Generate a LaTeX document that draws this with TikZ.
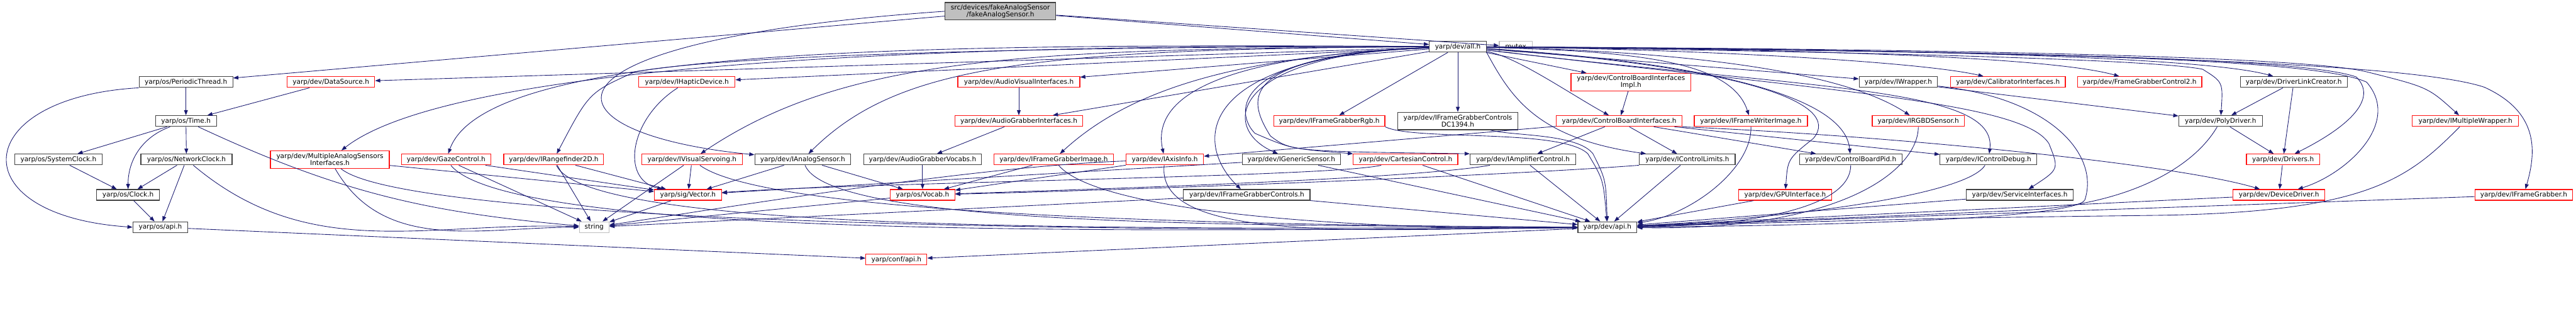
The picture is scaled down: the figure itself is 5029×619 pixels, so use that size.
\documentclass[tikz,border=0pt]{standalone}
\usepackage{fontspec}
\setmainfont{DejaVu Sans}
\usetikzlibrary{arrows.meta}
\definecolor{depblue}{RGB}{25, 25, 112}
\definecolor{hdrred}{RGB}{255, 20, 20}
\definecolor{hdrgrey}{RGB}{64, 64, 64}
\definecolor{extgrey}{RGB}{191, 191, 191}
\definecolor{rootfill}{RGB}{191, 191, 191}

\tikzset{
  hdr/.style={draw=hdrgrey, line width=1.1pt, fill=white, inner sep=0pt,
    minimum height=15.75pt, align=center, font=\fontsize{9.7}{9.3}\selectfont},
  hdrtrunc/.style={hdr, draw=hdrred},
  hdrext/.style={hdr, draw=extgrey},
  hdrroot/.style={hdr, fill=rootfill},
  twoline/.style={minimum height=25.5pt},
  boxw/.style={minimum width=#1*0.75pt},
  dep/.style={draw=depblue, line width=0.8pt, -{Triangle[length=7.5pt,width=5.5pt]}},
}

\begin{document}
\begin{tikzpicture}[x=0.75pt, y=-0.75pt]
    \useasboundingbox (0,0) rectangle (5029,619);

    % row 0 and 1
    \node[hdrroot, twoline, boxw=216] (root) at (1953,22) {src/devices/fakeAnalogSensor\\/fakeAnalogSensor.h};
    \node[hdr, boxw=111] (all) at (2846,91) {yarp/dev/all.h};
    \node[hdrext, boxw=64] (mutex) at (2959,91) {mutex};

    % row 2
    \node[hdr, boxw=183] (periodic) at (363,160) {yarp/os/PeriodicThread.h};
    \node[hdrtrunc, boxw=171] (datasource) at (646,160) {yarp/dev/DataSource.h};
    \node[hdrtrunc, boxw=188] (haptic) at (1341,160) {yarp/dev/IHapticDevice.h};
    \node[hdrtrunc, boxw=238] (audiovisual) at (1989,160) {yarp/dev/AudioVisualInterfaces.h};
    \node[hdrtrunc, twoline, boxw=234] (cbimpl) at (3184,160) {yarp/dev/ControlBoardInterfaces\\Impl.h};
    \node[hdr, boxw=153] (iwrapper) at (3706,160) {yarp/dev/IWrapper.h};
    \node[hdrtrunc, boxw=224] (calibrator) at (3920,160) {yarp/dev/CalibratorInterfaces.h};
    \node[hdrtrunc, boxw=243] (fgctrl2) at (4177,160) {yarp/dev/FrameGrabberControl2.h};
    \node[hdr, boxw=209] (linkcreator) at (4478,160) {yarp/dev/DriverLinkCreator.h};

    % row 3
    \node[hdr, boxw=119] (time) at (363,236) {yarp/os/Time.h};
    \node[hdrtrunc, boxw=250] (audiograbber) at (1989,236) {yarp/dev/AudioGrabberInterfaces.h};
    \node[hdrtrunc, boxw=217] (fgrgb) at (2595,236) {yarp/dev/IFrameGrabberRgb.h};
    \node[hdr, twoline, boxw=235] (dc1394) at (2846,236) {yarp/dev/IFrameGrabberControls\\DC1394.h};
    \node[hdrtrunc, boxw=245] (cbi) at (3161,236) {yarp/dev/ControlBoardInterfaces.h};
    \node[hdrtrunc, boxw=221] (fwriter) at (3418,236) {yarp/dev/IFrameWriterImage.h};
    \node[hdrtrunc, boxw=180] (rgbd) at (3745,236) {yarp/dev/IRGBDSensor.h};
    \node[hdr, boxw=163] (polydriver) at (4335,236) {yarp/dev/PolyDriver.h};
    \node[hdrtrunc, boxw=207] (multwrapper) at (4813,236) {yarp/dev/IMultipleWrapper.h};

    % row 4
    \node[hdr, boxw=171] (sysclock) at (114,311) {yarp/os/SystemClock.h};
    \node[hdr, boxw=178] (netclock) at (364,311) {yarp/os/NetworkClock.h};
    \node[hdrtrunc, twoline, boxw=232] (masi) at (644,311) {yarp/dev/MultipleAnalogSensors\\Interfaces.h};
    \node[hdrtrunc, boxw=175] (gaze) at (871,311) {yarp/dev/GazeControl.h};
    \node[hdrtrunc, boxw=195] (rangefinder) at (1081,311) {yarp/dev/IRangefinder2D.h};
    \node[hdrtrunc, boxw=197] (visualservo) at (1351,311) {yarp/dev/IVisualServoing.h};
    \node[hdr, boxw=187] (ianalog) at (1567,311) {yarp/dev/IAnalogSensor.h};
    \node[hdr, boxw=230] (agvocabs) at (1801,311) {yarp/dev/AudioGrabberVocabs.h};
    \node[hdrtrunc, boxw=234] (fgimage) at (2057,311) {yarp/dev/IFrameGrabberImage.h};
    \node[hdrtrunc, boxw=151] (axisinfo) at (2274,311) {yarp/dev/IAxisInfo.h};
    \node[hdr, boxw=192] (generic) at (2521,311) {yarp/dev/IGenericSensor.h};
    \node[hdrtrunc, boxw=204] (cartesian) at (2744,311) {yarp/dev/CartesianControl.h};
    \node[hdr, boxw=206] (amplifier) at (2973,311) {yarp/dev/IAmplifierControl.h};
    \node[hdr, boxw=187] (limits) at (3294,311) {yarp/dev/IControlLimits.h};
    \node[hdr, boxw=200] (cbpid) at (3613,311) {yarp/dev/ControlBoardPid.h};
    \node[hdr, boxw=189] (debug) at (3882,311) {yarp/dev/IControlDebug.h};
    \node[hdrtrunc, boxw=143] (drivers) at (4457,311) {yarp/dev/Drivers.h};

    % row 5
    \node[hdr, boxw=123] (clock) at (250,380) {yarp/os/Clock.h};
    \node[hdrtrunc, boxw=131] (vector) at (1343,380) {yarp/sig/Vector.h};
    \node[hdrtrunc, boxw=126] (vocab) at (1801,380) {yarp/os/Vocab.h};
    \node[hdr, boxw=247] (fgcontrols) at (2434,380) {yarp/dev/IFrameGrabberControls.h};
    \node[hdrtrunc, boxw=181] (gpu) at (3485,380) {yarp/dev/GPUInterface.h};
    \node[hdr, boxw=208] (service) at (3943,380) {yarp/dev/ServiceInterfaces.h};
    \node[hdrtrunc, boxw=179] (devicedriver) at (4449,380) {yarp/dev/DeviceDriver.h};
    \node[hdrtrunc, boxw=191] (fgrabber) at (4927,380) {yarp/dev/IFrameGrabber.h};

    % row 6 and 7
    \node[hdr, boxw=107] (osapi) at (313,443) {yarp/os/api.h};
    \node[hdrext, boxw=58] (string) at (1160,443) {string};
    \node[hdr, boxw=115] (devapi) at (3138,443) {yarp/dev/api.h};
    \node[hdrtrunc, boxw=119] (confapi) at (1750,506) {yarp/conf/api.h};

    % fakeAnalogSensor.h
    \draw[dep] (root) -- (periodic);
    \draw[dep] (root) -- (all);
    \draw[dep] (root) -- (mutex);
    \draw[dep] (root.west) .. controls (1000,80) and (1050,260) .. (ianalog);

    % all.h, to the left
    \draw[dep] (all) -- (datasource);
    \draw[dep] (all) -- (haptic);
    \draw[dep] (all) -- (audiovisual);
    \draw[dep] (all) -- (audiograbber);
    \draw[dep] (all) -- (fgrgb);
    \draw[dep] (all) -- (dc1394);
    \draw[dep] (all) .. controls (2000,85) and (900,110) .. (masi);
    \draw[dep] (all) .. controls (1800,85) and (950,90) .. (gaze);
    \draw[dep] (all) .. controls (2000,90) and (1400,110) .. (1240,140) .. controls (1150,180) .. (rangefinder);
    \draw[dep] (all) .. controls (2000,95) and (1650,110) .. (visualservo);
    \draw[dep] (all) .. controls (2000,95) and (1750,130) .. (ianalog);
    \draw[dep] (all) .. controls (2400,110) and (2200,180) .. (fgimage);
    \draw[dep] (all) .. controls (2350,110) and (2250,200) .. (axisinfo);
    \draw[dep] (all) .. controls (2330,110) and (2330,280) .. (fgcontrols);
    \draw[dep] (all) .. controls (2400,105) and (2380,250) .. (generic);
    \draw[dep] (all) .. controls (2400,105) and (2410,220) .. (2450,260) .. controls (2520,290) .. (cartesian.north west);
    \draw[dep] (all) .. controls (2400,110) and (2440,200) .. (2480,265) .. controls (2520,295) .. (amplifier.north west);

    % all.h, to the right
    \draw[dep] (all) -- (cbimpl);
    \draw[dep] (all) .. controls (2960,110) and (3060,180) .. (cbi);
    \draw[dep] (all.south east) .. controls (2950,190) and (3000,270) .. (limits);
    \draw[dep] (all) .. controls (3200,100) and (3380,120) .. (fwriter);
    \draw[dep] (all) .. controls (3300,100) and (3600,140) .. (rgbd);
    \draw[dep] (all) -- (iwrapper);
    \draw[dep] (all) .. controls (3300,95) and (3750,120) .. (calibrator);
    \draw[dep] (all) .. controls (3500,95) and (4000,110) .. (fgctrl2);
    \draw[dep] (all) .. controls (3700,95) and (4300,110) .. (linkcreator);
    \draw[dep] (all) .. controls (3600,100) and (4200,115) .. (4300,135) .. controls (4340,160) .. (polydriver);
    \draw[dep] (all) .. controls (3800,95) and (4500,110) .. (4620,140) .. controls (4740,170) .. (multwrapper);
    \draw[dep] (all) .. controls (4000,100) and (4700,120) .. (4850,170) .. controls (4960,220) and (4950,300) .. (fgrabber);
    \draw[dep] (all) .. controls (4000,100) and (4500,115) .. (4600,150) .. controls (4650,200) and (4560,260) .. (drivers);
    \draw[dep] (all) .. controls (4000,100) and (4520,115) .. (4620,160) .. controls (4690,240) and (4580,340) .. (devicedriver);
    \draw[dep] (all) .. controls (3600,180) and (3950,200) .. (4000,280) .. controls (4020,330) .. (service);
    \draw[dep] (all) .. controls (3550,175) and (3900,170) .. (debug);
    \draw[dep] (all) .. controls (3300,120) and (3600,180) .. (cbpid);
    \draw[dep] (all) .. controls (3400,130) and (3600,200) .. (3540,270) .. controls (3490,310) .. (gpu);

    % yarp/os
    \draw[dep] (periodic) -- (time);
    \draw[dep] (periodic.south west) .. controls (-60,190) and (-80,420) .. (osapi.west);
    \draw[dep] (datasource) -- (time);
    \draw[dep] (time) -- (sysclock);
    \draw[dep] (time) to[out=200, in=90] (clock);
    \draw[dep] (time) -- (netclock);
    \draw[dep] (time) to[out=-25, in=175] (string);
    \draw[dep] (sysclock) -- (clock);
    \draw[dep] (netclock) -- (clock);
    \draw[dep] (netclock) -- (osapi);
    \draw[dep] (netclock) to[out=-40, in=178] (string);
    \draw[dep] (clock) -- (osapi);
    \draw[dep] (osapi) -- (confapi);

    % yarp/dev, left part
    \draw[dep] (haptic) .. controls (1230,230) and (1210,350) .. (vector);
    \draw[dep] (audiovisual) -- (audiograbber);
    \draw[dep] (audiograbber) -- (agvocabs);
    \draw[dep] (agvocabs) -- (vocab);
    \draw[dep] (masi) to[out=-60, in=180] (string);
    \draw[dep] (masi) -- (vector);
    \draw[dep] (masi) .. controls (800,440) and (2300,455) .. (devapi);
    \draw[dep] (gaze) -- (string);
    \draw[dep] (gaze) -- (vector);
    \draw[dep] (gaze) .. controls (1000,470) and (2300,450) .. (devapi);
    \draw[dep] (rangefinder) -- (string);
    \draw[dep] (rangefinder) -- (vector);
    \draw[dep] (rangefinder) .. controls (1150,460) and (2300,445) .. (devapi);
    \draw[dep] (visualservo) -- (vector);
    \draw[dep] (visualservo) -- (string);
    \draw[dep] (visualservo) .. controls (1500,420) and (2400,440) .. (devapi);
    \draw[dep] (ianalog) -- (vector);
    \draw[dep] (ianalog) -- (vocab);
    \draw[dep] (ianalog) .. controls (1620,440) and (2400,440) .. (devapi);
    \draw[dep] (fgimage) -- (vocab);
    \draw[dep] (fgimage) .. controls (2150,420) and (2700,450) .. (devapi);
    \draw[dep] (axisinfo) -- (vocab);
    \draw[dep] (axisinfo) .. controls (1900,325) and (1450,400) .. (string);
    \draw[dep] (axisinfo) .. controls (2255,480) and (2700,445) .. (devapi);
    \draw[dep] (generic) -- (vector);
    \draw[dep] (generic) -- (devapi);
    \draw[dep] (cartesian) .. controls (2600,345) and (1700,355) .. (vector);
    \draw[dep] (cartesian) -- (devapi);
    \draw[dep] (amplifier) .. controls (2750,350) and (2100,370) .. (vocab);
    \draw[dep] (amplifier) -- (devapi);
    \draw[dep] (limits.south west) .. controls (2900,345) and (2150,372) .. (vocab);
    \draw[dep] (limits) -- (devapi);
    \draw[dep] (fgcontrols) -- (string);
    \draw[dep] (fgcontrols) -- (devapi);
    \draw[dep] (vector) -- (string);
    \draw[dep] (vocab) -- (string);
    \draw[dep] (fgrgb.south east) .. controls (2760,275) and (3050,250) .. (3100,300) .. controls (3130,350) .. (devapi);
    \draw[dep] (dc1394) .. controls (2950,265) and (3080,260) .. (3110,300) .. controls (3135,350) .. (devapi);

    % yarp/dev, right part
    \draw[dep] (cbimpl) -- (cbi);
    \draw[dep] (cbi) -- (axisinfo);
    \draw[dep] (cbi) -- (amplifier);
    \draw[dep] (cbi) -- (limits);
    \draw[dep] (cbi) -- (cbpid);
    \draw[dep] (cbi) -- (debug);
    \draw[dep] (cbi.south east) .. controls (3700,265) and (4250,320) .. (devicedriver);
    \draw[dep] (fwriter) .. controls (3420,330) and (3300,420) .. (devapi);
    \draw[dep] (rgbd) .. controls (3745,330) and (3600,450) .. (devapi);
    \draw[dep] (cbpid) .. controls (3613,410) and (3400,440) .. (devapi);
    \draw[dep] (debug) .. controls (3840,380) and (3500,425) .. (devapi);
    \draw[dep] (gpu) -- (devapi);
    \draw[dep] (service) -- (devapi);
    \draw[dep] (iwrapper) -- (polydriver);
    \draw[dep] (iwrapper) .. controls (4000,190) and (4100,300) .. (4070,390) .. controls (4050,425) and (3600,440) .. (devapi);
    \draw[dep] (linkcreator) -- (polydriver);
    \draw[dep] (linkcreator) -- (drivers);
    \draw[dep] (polydriver) -- (drivers);
    \draw[dep] (polydriver) .. controls (4280,330) and (4150,400) .. (3950,410) .. controls (3600,425) .. (devapi);
    \draw[dep] (multwrapper) .. controls (4700,350) and (4620,415) .. (4200,420) .. controls (3800,425) .. (devapi);
    \draw[dep] (drivers) -- (devicedriver);
    \draw[dep] (devicedriver) -- (devapi);
    \draw[dep] (fgrabber) -- (devapi);
    \draw[dep] (devapi) -- (confapi);
\end{tikzpicture}
\end{document}
